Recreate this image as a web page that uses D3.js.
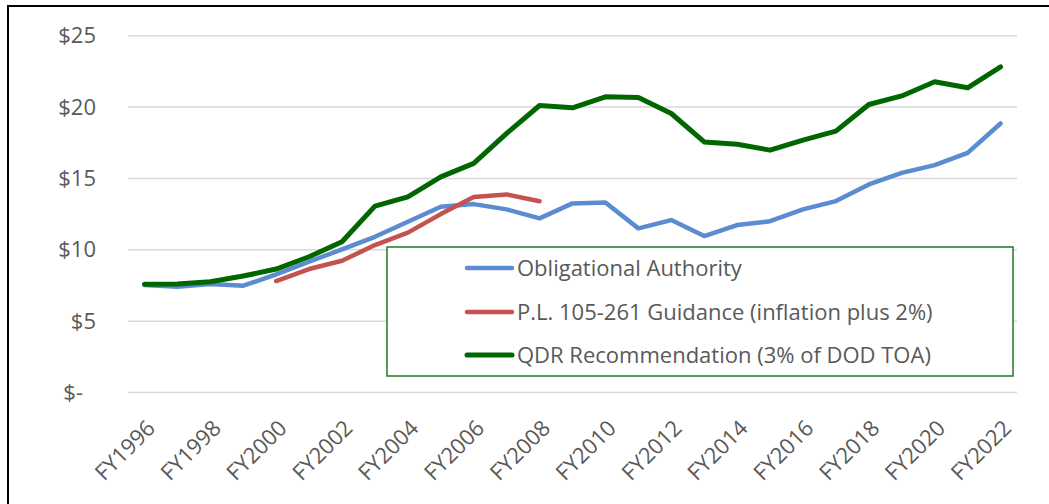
<!DOCTYPE html>
<html>
<head>
<meta charset="utf-8">
<script src="https://cdn.jsdelivr.net/npm/d3@7"></script>
<style>
  body { margin: 0; background: #fff; }
  text { font-family: "Open Sans", sans-serif; fill: #595959; }
</style>
</head>
<body>
<div id="chart"></div>
<script>
// fiscal years on the x axis
var years = ["FY1996","FY1997","FY1998","FY1999","FY2000","FY2001","FY2002","FY2003","FY2004",
  "FY2005","FY2006","FY2007","FY2008","FY2009","FY2010","FY2011","FY2012","FY2013",
  "FY2014","FY2015","FY2016","FY2017","FY2018","FY2019","FY2020","FY2021","FY2022"];

// series values ($ billions)
var obligational = [7.53, 7.41, 7.6, 7.48, 8.28, 9.16, 10.03, 10.91, 11.96, 13.01, 13.2, 12.83, 12.2,
  13.25, 13.32, 11.5, 12.08, 10.96, 11.73, 12.0, 12.83, 13.41, 14.58, 15.39, 15.93, 16.79, 18.85];
var guidance = [null, null, null, null, 7.81, 8.65, 9.23, 10.33, 11.2, 12.5, 13.7, 13.88, 13.4,
  null, null, null, null, null, null, null, null, null, null, null, null, null, null];
var qdr = [7.58, 7.6, 7.76, 8.16, 8.65, 9.51, 10.56, 13.06, 13.71, 15.11, 16.05, 18.15, 20.11,
  19.95, 20.72, 20.67, 19.55, 17.56, 17.4, 16.98, 17.68, 18.31, 20.18, 20.78, 21.77, 21.35, 22.82];

var yTicks = [0, 5, 10, 15, 20, 25];
var xTicks = years.filter(function(d, i) { return i % 2 == 0; });

var seriesNames = ["Obligational Authority",
  "P.L. 105-261 Guidance (inflation plus 2%)",
  "QDR Recommendation (3% of DOD TOA)"];

var W = 1049, H = 504;
var margin = {top: 35.7, right: 32, bottom: 111.5, left: 128},
  width = W - margin.left - margin.right,
  height = H - margin.top - margin.bottom;

var svg = d3.select("#chart")
  .append("svg")
    .attr("width", W)
    .attr("height", H);

// outer frame (only left/top edges are inside the picture)
svg.append("rect")
  .attr("x", 8).attr("y", 6)
  .attr("width", 1200).attr("height", 700)
  .attr("fill", "none")
  .attr("stroke", "#000")
  .attr("stroke-width", 2);

var g = svg.append("g")
  .attr("transform", "translate(" + margin.left + "," + margin.top + ")");

var x = d3.scaleBand()
  .domain(years)
  .range([0, width])
  .padding(0);

var y = d3.scaleLinear()
  .domain([0, 25])
  .range([height, 0]);

// gridlines
g.append("g")
  .selectAll("line")
  .data(yTicks)
  .join("line")
    .attr("x1", 0).attr("x2", width)
    .attr("y1", function(d) { return y(d); })
    .attr("y2", function(d) { return y(d); })
    .attr("stroke", "#d9d9d9")
    .attr("stroke-width", 1.5);

// y axis labels
var yAxis = g.append("g")
  .call(d3.axisLeft(y).tickValues(yTicks).tickSize(0).tickPadding(32)
    .tickFormat(function(d) { return d == 0 ? "$-" : "$" + d; }));
yAxis.select(".domain").remove();
yAxis.selectAll("text")
  .attr("fill", "#595959")
  .style("font-size", "22px")
  .style("font-family", "'Open Sans', sans-serif")
  .attr("dx", function(d) { return d == 0 ? -13 : 0; });

// x axis labels, rotated
var xAxis = g.append("g")
  .attr("transform", "translate(0," + height + ")")
  .call(d3.axisBottom(x).tickValues(xTicks).tickSize(0));
xAxis.select(".domain").remove();
xAxis.selectAll("text")
  .attr("fill", "#595959")
  .style("font-size", "22px")
  .style("font-family", "'Open Sans', sans-serif")
  .attr("y", 0).attr("dy", 0)
  .attr("transform", "translate(12,37) rotate(-45)")
  .style("text-anchor", "end");

// lines
var line = d3.line()
  .defined(function(d) { return d.v != null; })
  .x(function(d) { return x(d.year) + x.bandwidth() / 2; })
  .y(function(d) { return y(d.v); });

var series = [
  {name: seriesNames[0], values: obligational, color: "#5b8bd0", w: 4.5},
  {name: seriesNames[1], values: guidance, color: "#c4524f", w: 4.5},
  {name: seriesNames[2], values: qdr, color: "#006600", w: 5}
];

series.forEach(function(s) {
  var pts = years.map(function(yr, i) { return {year: yr, v: s.values[i]}; });
  g.append("path")
    .datum(pts)
    .attr("fill", "none")
    .attr("stroke", s.color)
    .attr("stroke-width", s.w)
    .attr("stroke-linejoin", "round")
    .attr("stroke-linecap", "round")
    .attr("d", line);
});

// legend box
var legend = svg.append("g");
legend.append("rect")
  .attr("x", 387).attr("y", 247)
  .attr("width", 626).attr("height", 129)
  .attr("fill", "#fff")
  .attr("stroke", "#1e7b1e")
  .attr("stroke-width", 1.5);

var rowY = [268, 312, 355];
series.forEach(function(s, i) {
  legend.append("line")
    .attr("x1", 467).attr("x2", 512)
    .attr("y1", rowY[i]).attr("y2", rowY[i])
    .attr("stroke", s.color)
    .attr("stroke-width", s.w)
    .attr("stroke-linecap", "round");
  legend.append("text")
    .attr("x", 517).attr("y", rowY[i])
    .attr("dy", "0.35em")
    .style("font-size", "22px")
    .text(s.name);
});
</script>
</body>
</html>
